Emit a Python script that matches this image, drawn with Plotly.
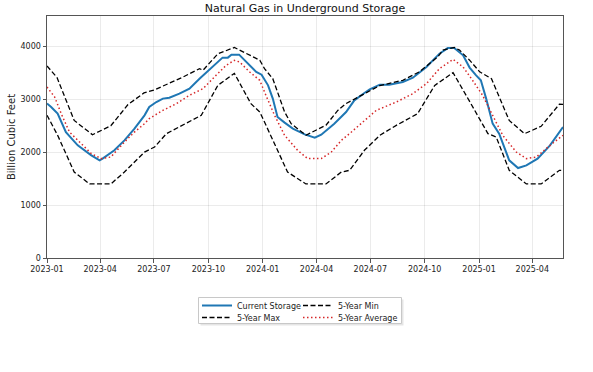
import plotly.graph_objects as go

# ---------------- data ----------------
current_dates = [
    "2023-01-01", "2023-01-08", "2023-01-19", "2023-02-02", "2023-02-22", "2023-03-17",
    "2023-03-31", "2023-04-05", "2023-04-25", "2023-05-12", "2023-05-29", "2023-06-15",
    "2023-06-23", "2023-07-05", "2023-07-16", "2023-07-27", "2023-08-13", "2023-08-30",
    "2023-09-16", "2023-10-08", "2023-10-20", "2023-10-25", "2023-11-03", "2023-11-09",
    "2023-11-22", "2023-12-04", "2023-12-21", "2023-12-30", "2024-01-10", "2024-01-18",
    "2024-01-26", "2024-02-07", "2024-02-21", "2024-03-12", "2024-03-23", "2024-03-29",
    "2024-04-09", "2024-05-01", "2024-05-21", "2024-06-04", "2024-06-21", "2024-06-30",
    "2024-07-17", "2024-08-02", "2024-08-25", "2024-09-11", "2024-10-04", "2024-10-26",
    "2024-11-09", "2024-11-20", "2024-12-05", "2024-12-16", "2024-12-27", "2025-01-04",
    "2025-01-13", "2025-01-24", "2025-02-04", "2025-02-21", "2025-03-08", "2025-03-22",
    "2025-04-10", "2025-05-01", "2025-05-23",
]
current_storage = [
    2920, 2855, 2730, 2380, 2130, 1940,
    1847, 1880, 2036, 2224, 2446, 2697,
    2854, 2949, 3013, 3031, 3107, 3202,
    3390, 3610, 3737, 3788, 3788, 3844,
    3844, 3704, 3516, 3466, 3264, 3013,
    2665, 2559, 2446, 2338, 2300, 2276,
    2332, 2540, 2759, 2981, 3119, 3189,
    3277, 3277, 3327, 3409, 3610, 3863,
    3969, 3969, 3831, 3600, 3453, 3359,
    3013, 2540, 2351, 1847, 1701, 1752,
    1879, 2130, 2476,
]

max_dates = [
    "2023-01-01", "2023-01-18", "2023-02-16", "2023-03-19", "2023-04-19", "2023-05-18",
    "2023-06-14", "2023-07-02", "2023-08-19", "2023-09-16", "2023-09-22", "2023-10-17",
    "2023-11-14", "2023-12-10", "2023-12-27", "2024-01-04", "2024-01-18", "2024-02-07",
    "2024-02-18", "2024-03-14", "2024-03-31", "2024-04-17", "2024-05-07", "2024-05-21",
    "2024-06-10", "2024-07-17", "2024-08-25", "2024-09-22", "2024-10-23", "2024-11-01",
    "2024-11-20", "2024-11-29", "2024-12-16", "2025-01-02", "2025-01-22", "2025-02-21",
    "2025-03-19", "2025-04-16", "2025-05-17", "2025-05-23",
]
max_5yr = [
    3630, 3410, 2600, 2330, 2500, 2900,
    3120, 3180, 3420, 3580, 3550, 3860,
    3980, 3830, 3740, 3580, 3390, 2760,
    2540, 2320, 2410, 2510, 2790, 2920,
    3040, 3260, 3360, 3520, 3800, 3930,
    3980, 3930, 3740, 3520, 3390, 2600,
    2350, 2490, 2910, 2905,
]

min_dates = [
    "2023-01-01", "2023-01-19", "2023-02-16", "2023-03-14", "2023-04-19", "2023-05-12",
    "2023-06-15", "2023-07-02", "2023-07-22", "2023-08-22", "2023-09-19", "2023-10-17",
    "2023-11-14", "2023-12-12", "2023-12-27", "2024-01-04", "2024-02-12", "2024-03-14",
    "2024-04-17", "2024-05-13", "2024-05-27", "2024-06-21", "2024-07-17", "2024-08-14",
    "2024-09-19", "2024-10-18", "2024-11-18", "2024-12-16", "2025-01-16", "2025-01-30",
    "2025-02-21", "2025-03-22", "2025-04-16", "2025-05-17", "2025-05-23",
]
min_5yr = [
    2700, 2320, 1625, 1400, 1400, 1625,
    2003, 2098, 2351, 2540, 2697, 3264,
    3490, 2918, 2759, 2570, 1625, 1400,
    1400, 1625, 1658, 2036, 2319, 2508,
    2729, 3264, 3504, 2960, 2351, 2287,
    1658, 1400, 1400, 1658, 1658,
]

avg_dates = [
    "2023-01-01", "2023-01-14", "2023-01-25", "2023-02-08", "2023-02-28", "2023-03-17",
    "2023-04-03", "2023-04-19", "2023-05-12", "2023-05-29", "2023-06-15", "2023-06-23",
    "2023-07-16", "2023-08-08", "2023-08-30", "2023-09-22", "2023-10-14", "2023-10-31",
    "2023-11-14", "2023-11-23", "2023-12-10", "2023-12-27", "2024-01-04", "2024-01-21",
    "2024-02-07", "2024-02-29", "2024-03-17", "2024-04-09", "2024-04-26", "2024-05-13",
    "2024-05-30", "2024-06-21", "2024-07-11", "2024-08-14", "2024-09-11", "2024-10-04",
    "2024-10-26", "2024-11-18", "2024-12-05", "2024-12-21", "2025-01-07", "2025-01-24",
    "2025-02-10", "2025-03-05", "2025-03-22", "2025-04-08", "2025-05-01", "2025-05-23",
]
avg_5yr = [
    3232, 3043, 2729, 2381, 2162, 1973,
    1879, 1909, 2192, 2381, 2540, 2635,
    2791, 2918, 3075, 3202, 3453, 3642,
    3737, 3704, 3516, 3359, 3138, 2697,
    2319, 2036, 1879, 1879, 2003, 2224,
    2381, 2602, 2791, 2949, 3107, 3296,
    3580, 3755, 3610, 3359, 3075, 2697,
    2319, 2003, 1879, 1909, 2130, 2319,
]

tick_dates = ["2023-01-01", "2023-04-01", "2023-07-01", "2023-10-01", "2024-01-01",
              "2024-04-01", "2024-07-01", "2024-10-01", "2025-01-01", "2025-04-01"]
tick_labels = ["2023-01", "2023-04", "2023-07", "2023-10", "2024-01",
               "2024-04", "2024-07", "2024-10", "2025-01", "2025-04"]
y_ticks = [0, 1000, 2000, 3000, 4000]

# ---------------- figure ----------------
FONT = "DejaVu Sans"
fig = go.Figure()

fig.add_trace(go.Scatter(x=current_dates, y=current_storage, mode="lines",
                         name="Current Storage", legend="legend",
                         line=dict(color="#1f77b4", width=2)))
fig.add_trace(go.Scatter(x=min_dates, y=min_5yr, mode="lines",
                         name="5-Year Min", legend="legend",
                         line=dict(color="black", width=1.3, dash="5px,2.5px")))
fig.add_trace(go.Scatter(x=max_dates, y=max_5yr, mode="lines",
                         name="5-Year Max", legend="legend2",
                         line=dict(color="black", width=1.3, dash="5px,2.5px")))
fig.add_trace(go.Scatter(x=avg_dates, y=avg_5yr, mode="lines",
                         name="5-Year Average", legend="legend2",
                         line=dict(color="#d62728", width=1.5, dash="1.5px,2.5px")))

axis_common = dict(
    showline=True, mirror=True, linecolor="#555", linewidth=1,
    ticks="outside", ticklen=3.5, tickwidth=1, tickcolor="#555",
    showgrid=True, gridcolor="rgba(0,0,0,0.08)", gridwidth=1,
    zeroline=False, automargin=False,
    tickfont=dict(family=FONT, size=8, color="#222"),
)

fig.update_xaxes(type="date", range=["2023-01-01", "2025-05-23"],
                 tickmode="array", tickvals=tick_dates, ticktext=tick_labels,
                 **axis_common)
fig.update_yaxes(range=[0, 4575], tickmode="array", tickvals=y_ticks,
                 title=dict(text="Billion Cubic Feet", standoff=3,
                            font=dict(family=FONT, size=10, color="#222")),
                 **axis_common)

legend_common = dict(orientation="h", xanchor="left", yanchor="middle",
                     bgcolor="rgba(0,0,0,0)", borderwidth=0,
                     font=dict(family=FONT, size=8, color="#222"),
                     entrywidth=56, entrywidthmode="pixels",
                     itemclick=False, itemdoubleclick=False)

# legend frame (pixel -> paper conversion for plot area l=47, w=516, t=16, h=242)
def px_x(p):
    return (p - 47) / 516

def px_y(p):
    return (258 - p) / 242

fig.update_layout(
    width=593, height=372, autosize=False,
    margin=dict(l=47, r=30, t=16, b=114, autoexpand=False),
    paper_bgcolor="white", plot_bgcolor="white",
    font=dict(family=FONT, size=8, color="#222"),
    title=dict(text="Natural Gas in Underground Storage",
               x=0.5, xref="paper", xanchor="center",
               y=1 - 8 / 372, yref="container", yanchor="middle",
               font=dict(family=FONT, size=11, color="#111")),
    legend=dict(x=px_x(197), y=px_y(305.5), **legend_common),
    legend2=dict(x=px_x(197), y=px_y(317.5), **legend_common),
    shapes=[
        dict(type="rect", xref="paper", yref="paper",
             x0=px_x(200.5), x1=px_x(403.5), y0=px_y(299.5), y1=px_y(325.5),
             line=dict(width=0), fillcolor="rgba(0,0,0,0.10)", layer="above"),
        dict(type="rect", xref="paper", yref="paper",
             x0=px_x(198.5), x1=px_x(401.5), y0=px_y(297.5), y1=px_y(323.5),
             line=dict(color="#c8c8c8", width=1), fillcolor="white", layer="above"),
    ],
)

fig.write_html("out.html", config={"displayModeBar": False},
               post_script="document.body.style.margin='0';")
